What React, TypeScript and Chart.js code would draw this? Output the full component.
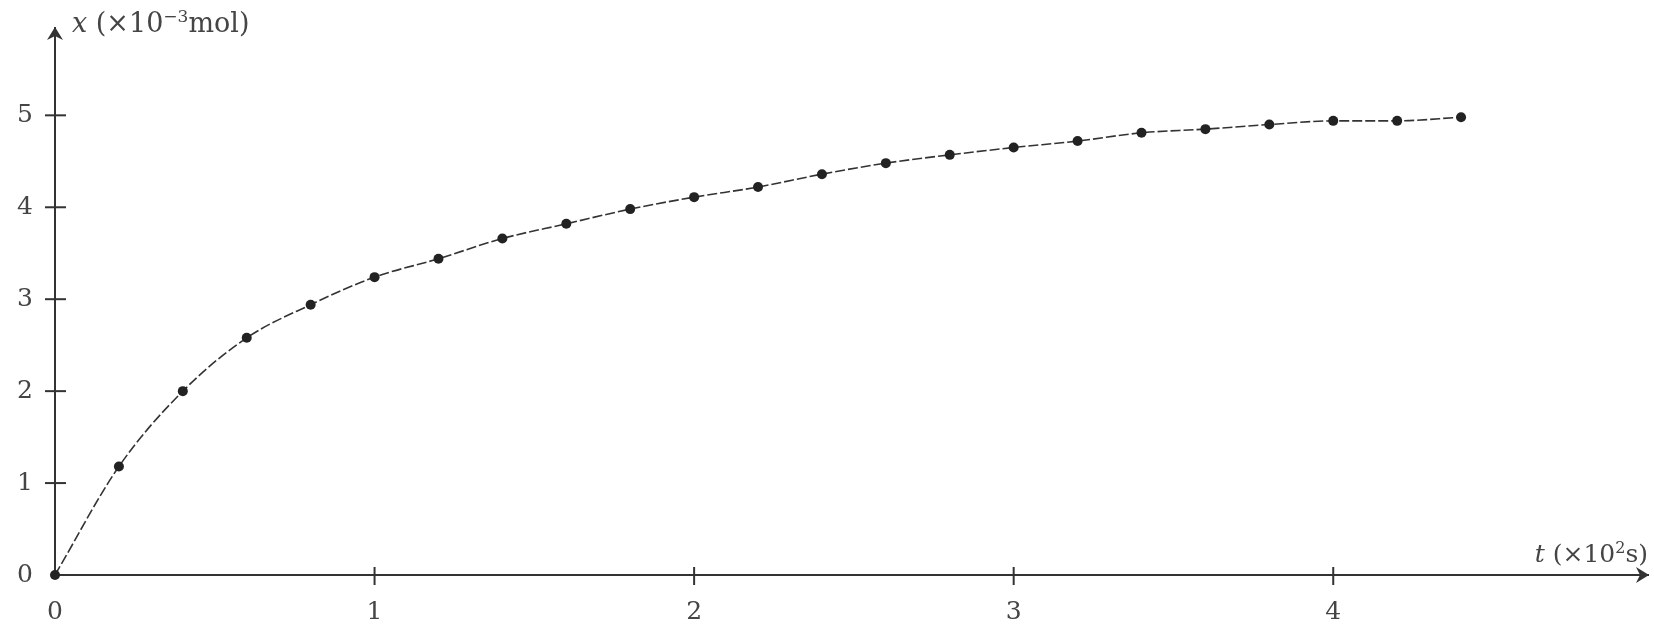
import React, { useEffect, useRef } from 'react';
import { Chart, registerables } from 'chart.js';

Chart.register(...registerables);

// t in units of 10^2 s
const times = [0, 0.2, 0.4, 0.6, 0.8, 1.0, 1.2, 1.4, 1.6, 1.8, 2.0, 2.2, 2.4, 2.6, 2.8, 3.0, 3.2, 3.4, 3.6, 3.8, 4.0, 4.2, 4.4];
// x in units of 10^-3 mol
const amounts = [0, 1.18, 2.0, 2.58, 2.94, 3.24, 3.44, 3.66, 3.82, 3.98, 4.11, 4.22, 4.36, 4.48, 4.57, 4.65, 4.72, 4.81, 4.85, 4.9, 4.94, 4.94, 4.98];

const xTickValues = [0, 1, 2, 3, 4];
const yTickValues = [0, 1, 2, 3, 4, 5];

const FONT = '"DejaVu Serif", "Liberation Serif", serif';
const AXIS_COLOR = '#333333';
const TEXT_COLOR = '#454545';

type Part = { text: string; italic?: boolean; sup?: boolean };
const yTitle: Part[] = [
  { text: 'x', italic: true },
  { text: ' (×10' },
  { text: '−3', sup: true },
  { text: 'mol)' },
];
const xTitle: Part[] = [
  { text: 't', italic: true },
  { text: ' (×10' },
  { text: '2', sup: true },
  { text: 's)' },
];

function partFont(p: Part, size: number) {
  const s = p.sup ? Math.round(size * 0.62) : size;
  return `${p.italic ? 'italic ' : ''}${s}px ${FONT}`;
}

function measureParts(ctx: CanvasRenderingContext2D, parts: Part[], size: number) {
  let w = 0;
  for (const p of parts) {
    ctx.font = partFont(p, size);
    w += ctx.measureText(p.text).width;
  }
  return w;
}

function drawParts(ctx: CanvasRenderingContext2D, parts: Part[], x: number, baseline: number, size: number) {
  let cx = x;
  ctx.textAlign = 'left';
  ctx.textBaseline = 'alphabetic';
  for (const p of parts) {
    ctx.font = partFont(p, size);
    const y = p.sup ? baseline - size * 0.38 : baseline;
    ctx.fillText(p.text, cx, y);
    cx += ctx.measureText(p.text).width;
  }
}

const axisDecor = {
  id: 'axisDecor',
  afterDraw(chart: any) {
    const { ctx, chartArea, scales } = chart;
    const xs = scales.x;
    const ys = scales.y;
    const ox = xs.getPixelForValue(0);
    const oy = ys.getPixelForValue(0);
    ctx.save();
    ctx.strokeStyle = AXIS_COLOR;
    ctx.fillStyle = AXIS_COLOR;
    ctx.lineWidth = 2;
    // tick marks crossing the axes
    xs.ticks.forEach((t: any) => {
      if (t.value === 0) return;
      const px = xs.getPixelForValue(t.value);
      ctx.beginPath();
      ctx.moveTo(px, oy - 8);
      ctx.lineTo(px, oy + 10);
      ctx.stroke();
    });
    ys.ticks.forEach((t: any) => {
      if (t.value === 0) return;
      const py = ys.getPixelForValue(t.value);
      ctx.beginPath();
      ctx.moveTo(ox - 10, py);
      ctx.lineTo(ox + 11, py);
      ctx.stroke();
    });
    // arrow heads
    const top = chartArea.top;
    ctx.beginPath();
    ctx.moveTo(ox, top - 1);
    ctx.lineTo(ox - 8, top + 12);
    ctx.lineTo(ox, top + 8);
    ctx.lineTo(ox + 8, top + 12);
    ctx.closePath();
    ctx.fill();
    const right = chartArea.right;
    ctx.beginPath();
    ctx.moveTo(right + 1, oy);
    ctx.lineTo(right - 12, oy - 8);
    ctx.lineTo(right - 8, oy);
    ctx.lineTo(right - 12, oy + 8);
    ctx.closePath();
    ctx.fill();
    // axis titles
    ctx.fillStyle = TEXT_COLOR;
    drawParts(ctx, yTitle, ox + 17, top + 4, 27);
    const w = measureParts(ctx, xTitle, 25);
    drawParts(ctx, xTitle, right - w, oy - 13, 25);
    ctx.restore();
  },
};

export default function App() {
  const canvasRef = useRef<HTMLCanvasElement | null>(null);

  useEffect(() => {
    const canvas = canvasRef.current;
    if (!canvas) return;
    const chart = new Chart(canvas, {
      type: 'line',
      data: {
        datasets: [
          {
            data: times.map((t, i) => ({ x: t, y: amounts[i] })),
            borderColor: '#333333',
            borderWidth: 1.6,
            borderDash: [10, 3],
            cubicInterpolationMode: 'monotone',
            pointRadius: 5,
            pointBackgroundColor: '#222222',
            pointBorderColor: '#222222',
            pointBorderWidth: 0,
            clip: false,
          } as any,
        ],
      },
      options: {
        responsive: false,
        animation: false,
        events: [],
        layout: { padding: { top: 28, right: 6, left: 0, bottom: 0 } },
        plugins: {
          legend: { display: false },
          tooltip: { enabled: false },
          title: { display: false },
        },
        scales: {
          x: {
            type: 'linear',
            min: 0,
            max: 4.985,
            afterFit: (s: any) => {
              s.height = 54;
              s.paddingLeft = 0;
              s.paddingRight = 0;
            },
            afterBuildTicks: (s: any) => {
              s.ticks = xTickValues.map((v) => ({ value: v }));
            },
            grid: { display: false, drawTicks: false },
            border: { display: true, color: AXIS_COLOR, width: 2 },
            ticks: {
              font: { family: FONT, size: 25 },
              color: TEXT_COLOR,
              padding: 22,
              maxRotation: 0,
              callback: (v: any) => String(v),
            },
          },
          y: {
            type: 'linear',
            min: 0,
            max: 5.95,
            afterFit: (s: any) => {
              s.width = 55;
              s.paddingTop = 0;
              s.paddingBottom = 0;
            },
            afterBuildTicks: (s: any) => {
              s.ticks = yTickValues.map((v) => ({ value: v }));
            },
            grid: { display: false, drawTicks: false },
            border: { display: true, color: AXIS_COLOR, width: 2 },
            ticks: {
              font: { family: FONT, size: 25 },
              color: TEXT_COLOR,
              padding: 22,
              callback: (v: any) => String(v),
            },
          },
        },
      },
      plugins: [axisDecor],
    });
    return () => chart.destroy();
  }, []);

  return (
    <div style={{ position: 'fixed', left: 0, top: 0, width: 1654, height: 629, background: '#ffffff' }}>
      <canvas ref={canvasRef} width={1654} height={629} style={{ width: 1654, height: 629, display: 'block' }} />
    </div>
  );
}
